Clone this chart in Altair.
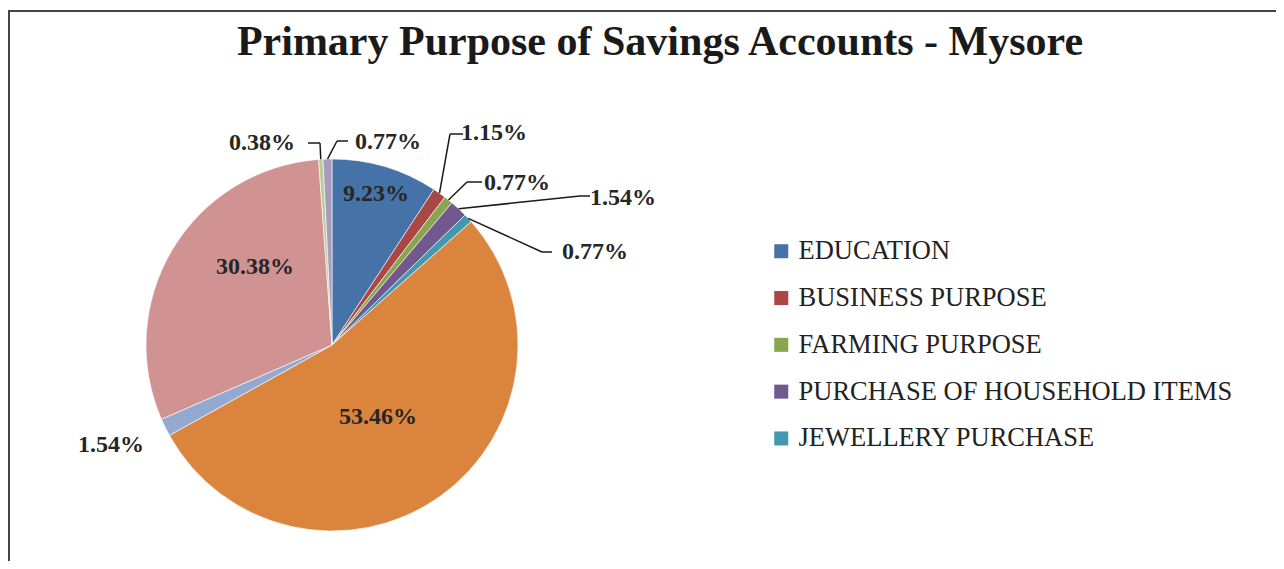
import altair as alt
import pandas as pd
import numpy as np

# ---------------- data ----------------
categories = [
    "EDUCATION", "BUSINESS PURPOSE", "FARMING PURPOSE",
    "PURCHASE OF HOUSEHOLD ITEMS", "JEWELLERY PURCHASE",
    "MARRIAGE", "HEALTH", "EMERGENCY", "RETIREMENT", "OTHERS",
]
values = [9.23, 1.15, 0.77, 1.54, 0.77, 53.46, 1.54, 30.38, 0.38, 0.77]
labels = ["9.23%", "1.15%", "0.77%", "1.54%", "0.77%",
          "53.46%", "1.54%", "30.38%", "0.38%", "0.77%"]
legend_items = categories[:5]
colors = ["#4572A7", "#AA4643", "#89A54E", "#71588F", "#4198AF",
          "#DB843D", "#93A9CF", "#D19392", "#B9CD96", "#A99BBD"]

# ---------------- layout (page pixels) ----------------
M = 8                      # page margin
W, H = 1268, 553           # plot size
CX, CY, R = 332, 345, 186  # pie centre / radius
# label centres (page px), hand placed like the original
label_x = [376, 494, 517, 623, 595, 378, 111, 255, 262, 388]
label_y = [194, 133, 183, 198, 252, 417, 445, 267, 143, 142]
# leader lines: label end -> elbow (None = no leader)
lead_start = [None, (463, 134), (482, 182), (590, 196), (552, 252),
              None, None, None, (308, 143), (348, 141)]
lead_elbow = [None, (450, 134), (467, 182), (580, 196), (542, 252),
              None, None, None, (320, 143), (337, 141)]

df = pd.DataFrame({"category": categories, "value": values,
                   "label": labels, "idx": list(range(len(values)))})

# anchors on the pie edge derived from the data (clockwise from 12 o'clock)
cum = np.cumsum(values)
tot = cum[-1]
mid = (cum - np.array(values) / 2) / tot * 2 * np.pi
ax = CX + R * np.sin(mid)
ay = CY - R * np.cos(mid)

segs = []
for i in range(len(values)):
    if lead_start[i] is None:
        continue
    (sx, sy), (ex, ey) = lead_start[i], lead_elbow[i]
    segs.append({"x": sx, "y": sy, "x2": ex, "y2": ey})
    segs.append({"x": ex, "y": ey, "x2": float(ax[i]), "y2": float(ay[i])})
seg_df = pd.DataFrame(segs)

lab_df = pd.DataFrame({"x": label_x, "y": label_y, "label": labels})

xs = alt.Scale(domain=[M, M + W], range=[0, W])
ys = alt.Scale(domain=[M, M + H], range=[0, H])

FONT = "Liberation Serif"

pie = alt.Chart(df).mark_arc(outerRadius=R, stroke="white", strokeWidth=0.6).encode(
    theta=alt.Theta("value:Q", stack=True),
    order=alt.Order("idx:Q", sort="ascending"),
    color=alt.Color(
        "category:N",
        scale=alt.Scale(domain=categories, range=colors),
        legend=alt.Legend(
            values=legend_items, title=None, orient="none",
            legendX=768 - M, legendY=238 - M,
            symbolType="square", symbolSize=196, symbolStrokeWidth=0,
            symbolOpacity=1,
            labelFont=FONT, labelFontSize=26.5, labelColor="#222222",
            labelOffset=4, rowPadding=19.8, padding=0,
            labelLimit=700,
        ),
    ),
    x=alt.value(CX - M),
    y=alt.value(CY - M),
)

leaders = alt.Chart(seg_df).mark_rule(color="#1a1a1a", strokeWidth=1.5).encode(
    x=alt.X("x:Q", scale=xs, axis=None),
    y=alt.Y("y:Q", scale=ys, axis=None),
    x2="x2:Q",
    y2="y2:Q",
)

texts = alt.Chart(lab_df).mark_text(
    font=FONT, fontSize=24, fontWeight="bold", color="#262626",
    align="center", baseline="middle",
).encode(
    x=alt.X("x:Q", scale=xs, axis=None),
    y=alt.Y("y:Q", scale=ys, axis=None),
    text="label:N",
)

title = alt.Chart(pd.DataFrame({"t": ["Primary Purpose of Savings Accounts - Mysore"]})).mark_text(
    font=FONT, fontSize=42, fontWeight="bold", color="#1a1a1a",
    align="center", baseline="alphabetic",
).encode(
    text="t:N",
    x=alt.value(660 - M),
    y=alt.value(55 - M),
)

frame_top = alt.Chart(pd.DataFrame({"a": [0]})).mark_rule(color="#444444", strokeWidth=2).encode(
    x=alt.value(0), x2=alt.value(W), y=alt.value(3), y2=alt.value(3)
)
frame_left = alt.Chart(pd.DataFrame({"a": [0]})).mark_rule(color="#444444", strokeWidth=2).encode(
    x=alt.value(1), x2=alt.value(1), y=alt.value(3), y2=alt.value(H)
)

chart = alt.layer(frame_top, frame_left, pie, leaders, texts, title).properties(
    width=W, height=H,
    autosize=alt.AutoSizeParams(type="none"),
    padding=0,
    background="white",
).configure_view(stroke=None).resolve_scale(x="shared", y="shared")

chart.save("out.html", embed_options={"renderer": "svg", "actions": False})
